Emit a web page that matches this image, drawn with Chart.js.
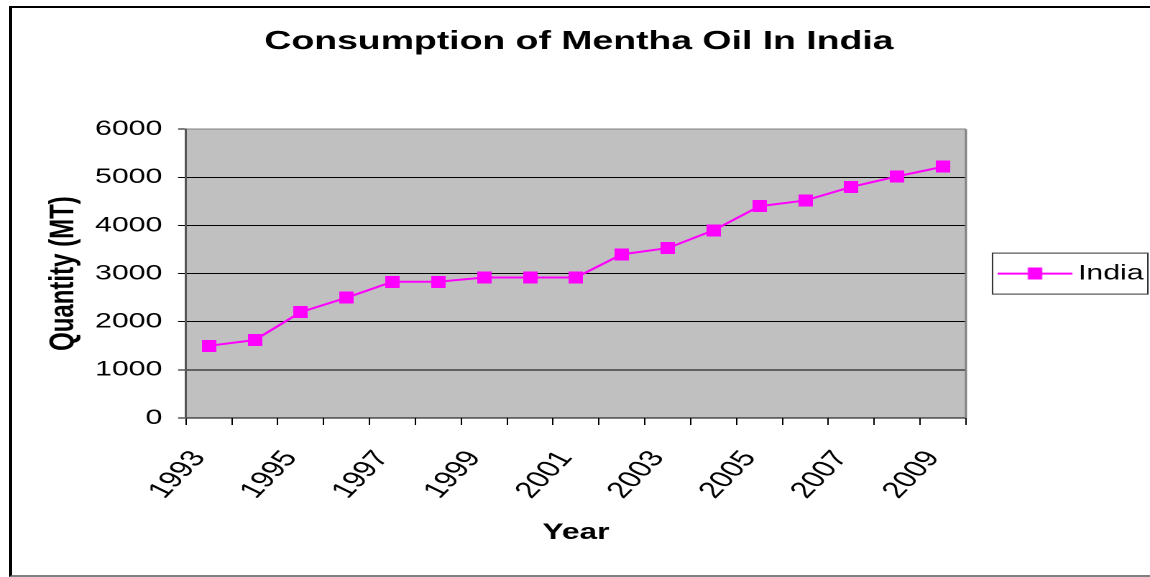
<!DOCTYPE html>
<html>
<head>
<meta charset="utf-8">
<title>Consumption of Mentha Oil In India</title>
<script src="https://cdn.jsdelivr.net/npm/chart.js@4.4.1/dist/chart.umd.min.js"></script>
<style>
  html, body { margin: 0; padding: 0; background: #fff; overflow: hidden; }
  #frame {
    position: absolute; left: 9px; top: 6px; width: 1200px; height: 567px;
    border-left: 3px solid #000; border-top: 2px solid #000; border-bottom: 2px solid #808080;
  }
  /* the original picture is stretched sideways, so the canvas is too */
  #chart {
    position: absolute; left: 0; top: 0; width: 800px; height: 577px;
    transform: scaleX(1.4375); transform-origin: 0 0;
  }
</style>
</head>
<body>
<div id="frame"></div>
<canvas id="chart" width="800" height="577"></canvas>
<script>
const years = ["1993", "1994", "1995", "1996", "1997", "1998", "1999", "2000", "2001",
               "2002", "2003", "2004", "2005", "2006", "2007", "2008", "2009"];
const quantity = [1500, 1620, 2200, 2500, 2830, 2830, 2920, 2920, 2920,
                  3400, 3530, 3900, 4400, 4520, 4800, 5020, 5220];
const yMin = 0;
const yMax = 6000;
const yStep = 1000;

const magenta = "#ff00ff";

function makeMarker() {
    const c = document.createElement("canvas");
    c.width = 10;
    c.height = 12;
    const g = c.getContext("2d");
    g.fillStyle = magenta;
    g.fillRect(0, 0, 10, 12);
    return c;
}

function makeLegendSymbol() {
    const c = document.createElement("canvas");
    c.width = 52;
    c.height = 12;
    const g = c.getContext("2d");
    g.fillStyle = magenta;
    g.fillRect(0, 5, 52, 2);
    g.fillRect(21, 0, 10, 12);
    return c;
}

const plotBackground = {
    id: "plotBackground",
    beforeDraw(chart) {
        const a = chart.chartArea;
        const ctx = chart.ctx;
        ctx.save();
        ctx.fillStyle = "#c0c0c0";
        ctx.fillRect(a.left, a.top, a.right - a.left, a.bottom - a.top);
        ctx.restore();
    },
    afterDraw(chart) {
        const a = chart.chartArea;
        const ctx = chart.ctx;
        ctx.save();
        ctx.strokeStyle = "#808080";
        ctx.lineWidth = 1.5;
        ctx.beginPath();
        ctx.moveTo(a.right, a.top);
        ctx.lineTo(a.right, a.bottom);
        ctx.stroke();
        // box round the legend
        const hb = chart.legend.legendHitBoxes[0];
        if (hb) {
            ctx.strokeStyle = "#333";
            ctx.lineWidth = 1;
            ctx.strokeRect(hb.left - 10, hb.top - 10, hb.width + 13, hb.height + 20);
        }
        ctx.restore();
    }
};

Chart.defaults.font.family = "'Liberation Sans', Arial, sans-serif";
Chart.defaults.color = "#000";

new Chart(document.getElementById("chart"), {
    type: "line",
    data: {
        labels: years,
        datasets: [{
            label: "India",
            data: quantity,
            borderColor: magenta,
            backgroundColor: magenta,
            borderWidth: 2,
            pointStyle: makeMarker(),
            pointRadius: 6,
            tension: 0,
            fill: false,
        }],
    },
    options: {
        responsive: false,
        animation: false,
        events: [],
        devicePixelRatio: 2,
        layout: { padding: { left: 0, right: -5.5, top: 0, bottom: 0 } },
        plugins: {
            title: {
                display: true,
                text: "Consumption of Mentha Oil In India",
                font: { size: 26, weight: "bold" },
                padding: { top: 26, bottom: 72 },
            },
            legend: {
                position: "right",
                fullSize: false,
                labels: {
                    usePointStyle: true,
                    pointStyle: makeLegendSymbol(),
                    pointStyleWidth: 39,
                    padding: 28.5,
                    font: { size: 21 },
                },
            },
            tooltip: { enabled: false },
        },
        scales: {
            x: {
                offset: true,
                afterFit(scale) { scale.height = 159; },
                grid: {
                    offset: true,
                    drawOnChartArea: false,
                    drawTicks: true,
                    tickLength: 7,
                    tickColor: "#000",
                },
                border: { color: "#000", width: 1 },
                ticks: {
                    autoSkip: false,
                    minRotation: 55,
                    maxRotation: 55,
                    padding: 21,
                    labelOffset: -7,
                    font: { size: 23 },
                    callback: function(value, index) {
                        return index % 2 === 0 ? this.getLabelForValue(value) : "";
                    },
                },
                title: {
                    display: true,
                    text: "Year",
                    font: { size: 22, weight: "bold" },
                    padding: { top: 0, bottom: 31 },
                },
            },
            y: {
                min: yMin,
                max: yMax,
                afterFit(scale) { scale.width = 129.4; },
                grid: {
                    color: ctx => ctx.tick && ctx.tick.value === yMax ? "#808080" : "#000",
                    lineWidth: 1,
                    tickLength: 5.5,
                    tickColor: "#000",
                },
                border: { color: "#555", width: 1.5 },
                ticks: {
                    stepSize: yStep,
                    padding: 11,
                    font: { size: 21 },
                    callback: value => String(value),
                },
                title: {
                    display: true,
                    text: "Quantity (MT)",
                    font: { size: 24, weight: "bold" },
                    padding: { top: 30, bottom: 0 },
                },
            },
        },
    },
    plugins: [plotBackground],
});
</script>
</body>
</html>
